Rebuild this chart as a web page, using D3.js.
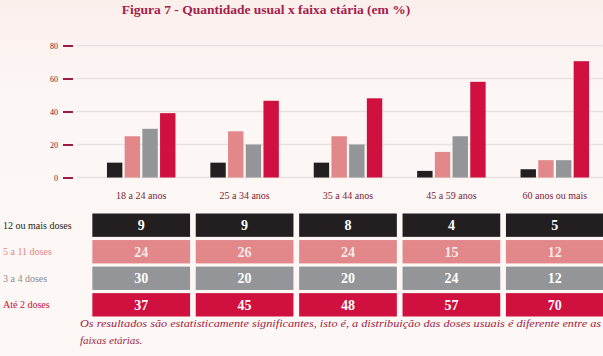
<!DOCTYPE html>
<html><head><meta charset="utf-8">
<script src="https://cdn.jsdelivr.net/npm/d3@7"></script>
<style>
html,body{margin:0;padding:0;background:#fcf5f3;}
svg{display:block;}
</style></head>
<body>
<script>
const categories = ["18 a 24 anos","25 a 34 anos","35 a 44 anos","45 a 59 anos","60 anos ou mais"];
const seriesNames = ["12 ou mais doses","5 a 11 doses","3 a 4 doses","Até 2 doses"];
// bar heights as drawn
const bar12mais = [9, 9, 9, 4, 5];
const bar5a11  = [25, 28, 25, 15.5, 10.5];
const bar3a4   = [29.5, 20, 20, 25, 10.5];
const barAte2  = [39, 46.5, 48, 58, 70.5];
// table values
const tab12mais = [9, 9, 8, 4, 5];
const tab5a11  = [24, 26, 24, 15, 12];
const tab3a4   = [30, 20, 20, 24, 12];
const tabAte2  = [37, 45, 48, 57, 70];
const yTicks = [0, 20, 40, 60, 80];
const title = "Figura 7 - Quantidade usual x faixa etária (em %)";
const note1 = "Os resultados são estatisticamente significantes, isto é, a distribuição das doses usuais é diferente entre as";
const note2 = "faixas etárias.";

const barSeries = [bar12mais, bar5a11, bar3a4, barAte2];
const tabSeries = [tab12mais, tab5a11, tab3a4, tabAte2];
const colors = ["#231f20", "#e2878a", "#939598", "#d0103f"];
const labelColors = ["#231f20", "#e2878a", "#8a8c8f", "#c8123f"];
const serif = "'Palatino Linotype','Book Antiqua',Palatino,'Liberation Serif','DejaVu Serif',serif";

const W = 603, H = 356;
const svg = d3.select("body").append("svg").attr("width", W).attr("height", H);

const defs = svg.append("defs");
const g0 = defs.append("linearGradient").attr("id","bg").attr("x1",0).attr("y1",0).attr("x2",0).attr("y2",1);
g0.append("stop").attr("offset","0").attr("stop-color","#fbefec");
g0.append("stop").attr("offset","0.25").attr("stop-color","#fcf6f4");
g0.append("stop").attr("offset","1").attr("stop-color","#fdf7f5");
svg.append("rect").attr("width",W).attr("height",H).attr("fill","url(#bg)");

svg.append("text").attr("x", 266).attr("y", 14).attr("text-anchor","middle")
  .attr("font-family", serif).attr("font-size", 13.5).attr("font-weight","bold")
  .attr("fill","#a3224a").text(title);

const x = d3.scaleBand().domain(categories).range([89.5, 606.5]).paddingInner(0.055).paddingOuter(0.0275);
const y = d3.scaleLinear().domain([0, 80]).range([177.5, 45.5]);

// grid
svg.append("g").selectAll("line").data(yTicks).join("line")
  .attr("x1", 77).attr("x2", W).attr("y1", d => y(d)).attr("y2", d => y(d))
  .attr("stroke", "#e7e1df").attr("stroke-width", 1.3);

// y axis ticks
const yAxis = d3.axisLeft(y).tickValues(yTicks).tickSize(10).tickPadding(5);
const ya = svg.append("g").attr("transform", "translate(73,0)").call(yAxis);
ya.select(".domain").remove();
ya.selectAll(".tick line").attr("stroke", "#9e1c43").attr("stroke-width", 2);
ya.selectAll(".tick text").attr("font-family", serif).attr("font-size", 8).attr("fill", "#6b1a33");

// bars
const xi = d3.scaleBand().domain(d3.range(4)).range([0, 68.5]).paddingInner(0.13);
const gx = x.bandwidth();
const grp = svg.append("g").selectAll("g").data(categories).join("g")
  .attr("transform", d => `translate(${x(d) + (gx - 68.5) / 2},0)`);
grp.selectAll("rect").data((c, i) => barSeries.map((s, k) => ({ k, v: s[i] }))).join("rect")
  .attr("x", d => xi(d.k)).attr("width", xi.bandwidth())
  .attr("y", d => y(d.v)).attr("height", d => y(0) - y(d.v))
  .attr("fill", d => colors[d.k]);

// x labels
svg.append("g").selectAll("text").data(categories).join("text")
  .attr("x", d => x(d) + gx / 2).attr("y", 199).attr("text-anchor","middle")
  .attr("font-family", serif).attr("font-size", 10).attr("fill", "#7a1f3a").text(d => d);

// table
const rowY = d3.scaleBand().domain(d3.range(4)).range([213.5, 316.5]).paddingInner(0.12);
const tbl = svg.append("g");
seriesNames.forEach((name, k) => {
  tbl.append("text").attr("x", 3).attr("y", rowY(k) + rowY.bandwidth() / 2 + 3.5)
    .attr("font-family", serif).attr("font-size", 10).attr("fill", labelColors[k]).text(name);
  tbl.append("g").selectAll("rect").data(categories).join("rect")
    .attr("x", d => x(d)).attr("width", gx).attr("y", rowY(k)).attr("height", rowY.bandwidth())
    .attr("fill", colors[k]);
  tbl.append("g").selectAll("text").data(categories).join("text")
    .attr("x", d => x(d) + gx / 2).attr("y", rowY(k) + rowY.bandwidth() / 2 + 5)
    .attr("text-anchor", "middle").attr("font-family", serif).attr("font-size", 14).attr("font-weight","bold")
    .attr("fill", k === 1 ? "#fbe9e8" : "#ffffff").text((d, i) => tabSeries[k][i]);
});

// note
svg.append("text").attr("x", 80).attr("y", 327).attr("font-family", serif).attr("font-style","italic")
  .attr("font-size", 11).attr("fill", "#9e1c43").attr("textLength", 521).attr("lengthAdjust","spacingAndGlyphs").text(note1);
svg.append("text").attr("x", 80).attr("y", 344).attr("font-family", serif).attr("font-style","italic")
  .attr("font-size", 11).attr("fill", "#9e1c43").text(note2);
</script>
</body></html>
